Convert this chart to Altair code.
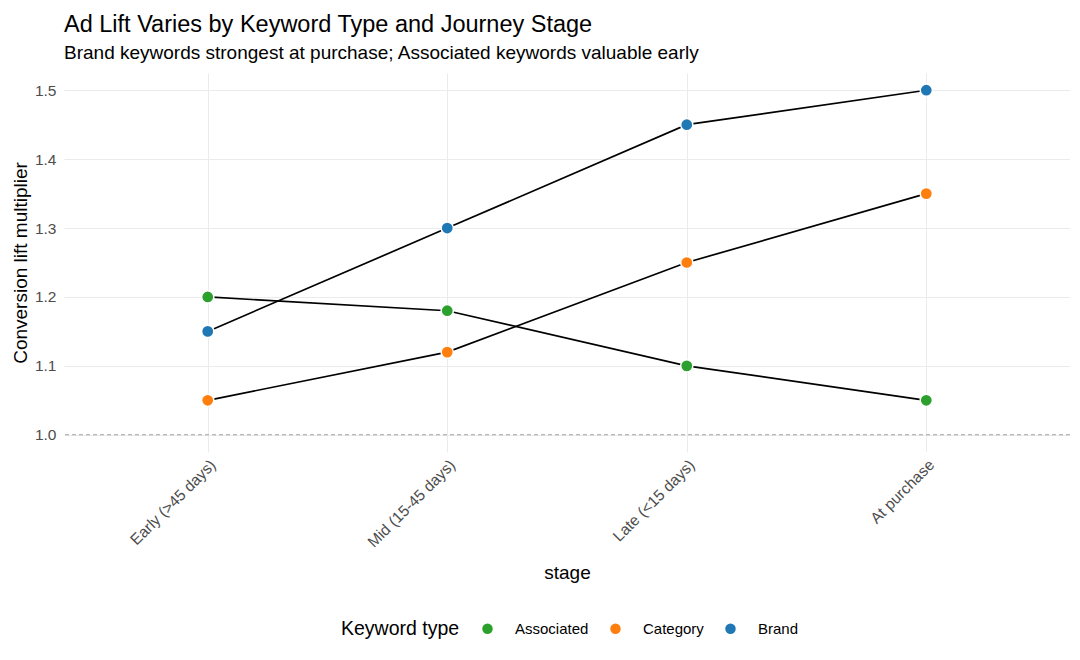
import altair as alt
import pandas as pd

stages = ["Early (>45 days)", "Mid (15-45 days)", "Late (<15 days)", "At purchase"]
keywords = ["Associated", "Category", "Brand"]
associated = [1.20, 1.18, 1.10, 1.05]
category = [1.05, 1.12, 1.25, 1.35]
brand = [1.15, 1.30, 1.45, 1.50]
colors = ["#2CA02C", "#FF7F0E", "#1F77B4"]
y_values = [1.0, 1.05, 1.1, 1.15, 1.2, 1.25, 1.3, 1.35, 1.4, 1.45, 1.5]

rows = []
for kw, vals in zip(keywords, [associated, category, brand]):
    for i, (s, v) in enumerate(zip(stages, vals)):
        rows.append({"stage": s, "idx": i, "keyword": kw, "lift": v})
df = pd.DataFrame(rows)

FONT = "Liberation Sans"

x_enc = alt.X("stage:N", sort=stages, title="stage",
              scale=alt.Scale(type="point", padding=0.6),
              axis=alt.Axis(labelAngle=-45, labelAlign="right", labelBaseline="top",
                            labelFontSize=15.5, labelColor="#4D4D4D", labelPadding=5,
                            titleFontSize=19, titleFontWeight="normal", titleColor="#000000",
                            titlePadding=13, grid=True, gridColor="#EBEBEB",
                            ticks=False, domain=False))
y_enc = alt.Y("lift:Q", title="Conversion lift multiplier",
              scale=alt.Scale(domain=[0.975, 1.525], nice=False, zero=False),
              axis=alt.Axis(values=y_values,
                            labelExpr="abs(datum.value*10 - round(datum.value*10)) < 0.001 ? format(datum.value, '.1f') : ''",
                            labelFontSize=15.5, labelColor="#4D4D4D", labelPadding=8,
                            titleFontSize=19, titleFontWeight="normal", titleColor="#000000",
                            titlePadding=4, grid=True, gridColor="#EBEBEB",
                            ticks=False, domain=False))

base = alt.Chart(df)

rule = alt.Chart(pd.DataFrame({"y": [1.0]})).mark_rule(
    color="#A0A0A0", strokeDash=[4, 3], strokeWidth=1
).encode(y=alt.Y("y:Q", scale=alt.Scale(domain=[0.975, 1.525], nice=False, zero=False)))

lines = base.mark_line(color="black", strokeWidth=1.7).encode(
    x=x_enc, y=y_enc, detail="keyword:N", order="idx:Q"
)

points = base.mark_point(filled=True, size=150, stroke="white", strokeWidth=1.5, opacity=1).encode(
    x=alt.X("stage:N", sort=stages),
    y="lift:Q",
    color=alt.Color("keyword:N", scale=alt.Scale(domain=keywords, range=colors),
                    legend=alt.Legend(title="Keyword type", orient="none", direction="horizontal",
                                      legendX=277, legendY=548, titleOrient="left",
                                      titleFontSize=19.5, titleFontWeight="normal", titleColor="#000000",
                                      titlePadding=20, labelFontSize=15, labelColor="#000000",
                                      labelOffset=20, columnPadding=19, symbolSize=110,
                                      symbolType="circle", symbolStrokeWidth=0,
                                      titleBaseline="middle", titleAnchor="middle")),
)

chart = alt.layer(rule, lines, points).properties(
    width=1006, height=379,
    padding={"left": 56, "top": 65, "right": 0, "bottom": 190},
    autosize=alt.AutoSizeParams(type="none"),
    title=alt.Title("Ad Lift Varies by Keyword Type and Journey Stage",
                    subtitle="Brand keywords strongest at purchase; Associated keywords valuable early",
                    anchor="start", frame="group", fontSize=23.5, fontWeight="normal",
                    subtitleFontSize=19, color="#000000", subtitleColor="#000000",
                    font=FONT, subtitleFont=FONT, offset=10, subtitlePadding=8),
).configure(font=FONT).configure_view(stroke=None, strokeWidth=0)

chart.save("out.html", embed_options={"renderer": "svg", "actions": False})
